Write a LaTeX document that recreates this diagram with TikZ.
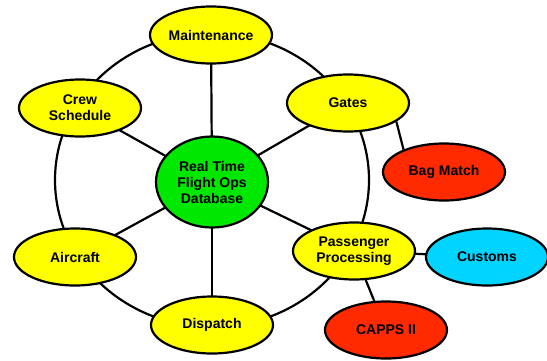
\documentclass[tikz,border=0pt]{standalone}
\usepackage{fontspec}
\setmainfont{Liberation Sans}
\usetikzlibrary{shapes.geometric,backgrounds}
\definecolor{nyellow}{HTML}{FFFF00}
\definecolor{ngreen}{HTML}{00E800}
\definecolor{nred}{HTML}{FF2A00}
\definecolor{ncyan}{HTML}{00D4FF}
\begin{document}
\begin{tikzpicture}[x=1pt,y=-1pt,
  bubble/.style={ellipse,draw=black,line width=2.2pt,inner sep=0pt,
    minimum width=122pt,minimum height=57pt,align=center,
    font=\fontsize{14}{16}\selectfont\bfseries},
  link/.style={draw=black,line width=2.2pt}]
\useasboundingbox (0,0) rectangle (547,360);
\node[bubble,fill=ngreen,minimum width=112pt,minimum height=91pt] (db) at (212,182) {Real Time\\Flight Ops\\Database};
\node[bubble,fill=nyellow] (maint) at (211,35) {Maintenance};
\node[bubble,fill=nyellow] (gates) at (348,103) {Gates};
\node[bubble,fill=nyellow] (crew) at (80,108) {Crew\\Schedule};
\node[bubble,fill=nyellow] (air) at (75,257) {Aircraft};
\node[bubble,fill=nyellow] (disp) at (212,325) {Dispatch};
\node[bubble,fill=nyellow] (pass) at (354,251) {Passenger\\Processing};
\node[bubble,fill=nred] (bag) at (444,172) {Bag Match};
\node[bubble,fill=ncyan] (cust) at (487,257) {Customs};
\node[bubble,fill=nred] (capps) at (386,330) {CAPPS II};
\begin{scope}[on background layer]
  \draw[link] (212,180) ellipse [x radius=157,y radius=147];
  \draw[link] (db.center) -- (maint.center);
  \draw[link] (db.center) -- (disp.center);
  \draw[link] (db.center) -- (crew.center);
  \draw[link] (db.center) -- (air.center);
  \draw[link] (db.center) -- (gates.center);
  \draw[link] (db.center) -- (pass.center);
  \draw[link] (gates.-21) -- (bag.151);
  \draw[link] (pass.center) -- (cust.center);
  \draw[link] (pass.center) -- (capps.center);
\end{scope}
\end{tikzpicture}
\end{document}
